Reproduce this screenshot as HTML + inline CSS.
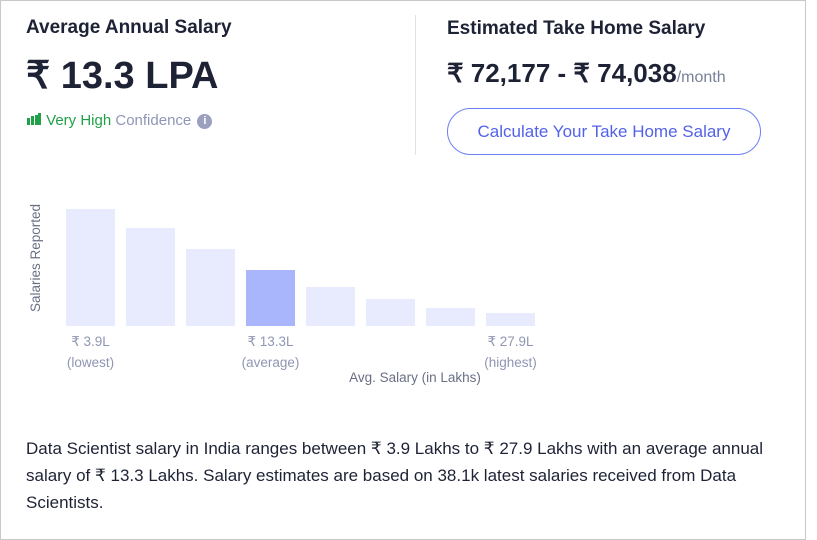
<!DOCTYPE html>
<html><head><meta charset="utf-8"><style>
body{margin:0;width:817px;height:531px;background:#fff;font-family:"Liberation Sans",sans-serif;position:relative;overflow:hidden}
.card{position:absolute;left:0;top:0;width:806px;height:540px;border:1px solid #c8c8c8;box-sizing:border-box}
.t{position:absolute;white-space:nowrap}
</style></head><body>
<div class="card"></div>
<div class="t" style="left:26px;top:17px;font-size:19px;font-weight:bold;color:#1e2235">Average Annual Salary</div>
<div class="t" style="left:26px;top:53px;font-size:38px;font-weight:bold;color:#1e2235">₹ 13.3 LPA</div>
<div class="t" style="left:26px;top:112px;font-size:15px;color:#21a04a">
<svg width="16" height="14" style="vertical-align:-1px"><rect x="1" y="6" width="3" height="7" fill="#21a04a"/><rect x="5" y="4" width="3" height="9" fill="#21a04a"/><rect x="9" y="3" width="3" height="10" fill="#21a04a"/><rect x="12" y="1" width="3" height="12" fill="#21a04a"/></svg> Very High <span style="color:#8e96b8">Confidence</span>
<span style="display:inline-block;width:15px;height:15px;border-radius:50%;background:#9aa0bd;color:#fff;font-size:11px;font-weight:bold;text-align:center;line-height:15px;vertical-align:middle;margin-left:2px">i</span></div>
<div style="position:absolute;left:415px;top:15px;width:1px;height:140px;background:#e2e2e2"></div>
<div class="t" style="left:447px;top:18px;font-size:19px;font-weight:bold;color:#1e2235">Estimated Take Home Salary</div>
<div class="t" style="left:447px;top:58px;font-size:26px;font-weight:bold;color:#1e2235">₹ 72,177 - ₹ 74,038<span style="font-size:16px;font-weight:normal;color:#7a7f98">/month</span></div>
<div style="position:absolute;left:447px;top:108px;width:314px;height:47px;box-sizing:border-box;border:1px solid #6b7ff8;border-radius:24px;color:#5362e8;font-size:17px;text-align:center;line-height:45px">Calculate Your Take Home Salary</div>
<svg id="chart" style="position:absolute;left:0;top:180px" width="560" height="210"></svg>
<div class="t" style="left:26px;top:435px;width:780px;white-space:nowrap;font-size:17px;line-height:27px;color:#1e2235">Data Scientist salary in India ranges between ₹ 3.9 Lakhs to ₹ 27.9 Lakhs with an average annual<br>salary of ₹ 13.3 Lakhs. Salary estimates are based on 38.1k latest salaries received from Data<br>Scientists.</div>
<script>
const categories=["b1","b2","b3","b4","b5","b6","b7","b8"];
const values=[117,98,77,56,39,27,18,13];
const highlightIndex=3;
const tickIdx=[0,3,7];
const tickLabels=["₹ 3.9L","₹ 13.3L","₹ 27.9L"];
const tickSubs=["(lowest)","(average)","(highest)"];
const svg=document.getElementById('chart');
const NS='http://www.w3.org/2000/svg';
const base=146,x0=66,pitch=60,bw=49;
const xs=i=>x0+i*pitch;
const ys=v=>base-v;
function el(t,a,txt){const e=document.createElementNS(NS,t);for(const k in a)e.setAttribute(k,a[k]);if(txt)e.textContent=txt;svg.appendChild(e);return e;}
values.forEach((v,i)=>{
const r=el('rect',{x:xs(i),y:ys(v),width:bw,height:v,fill:i===highlightIndex?'#a9b6fc':'#e8ebfd'});


});
tickIdx.forEach((ix,j)=>{
const cx=xs(ix)+bw/2;
const a=el('text',{x:cx,y:166,'text-anchor':'middle','font-size':13.5,fill:'#9096b3','font-family':'Liberation Sans'},tickLabels[j]);


const b=el('text',{x:cx,y:187,'text-anchor':'middle','font-size':13.5,fill:'#9096b3','font-family':'Liberation Sans'},tickSubs[j]);


});
const xt=el('text',{x:415,y:202,'text-anchor':'middle','font-size':13.5,fill:'#6a6f85','font-family':'Liberation Sans'},'Avg. Salary (in Lakhs)');


const yt=el('text',{x:0,y:0,transform:'translate(40,78) rotate(-90)','text-anchor':'middle','font-size':13.5,fill:'#6a6f85','font-family':'Liberation Sans'},'Salaries Reported');


</script>
</body></html>
